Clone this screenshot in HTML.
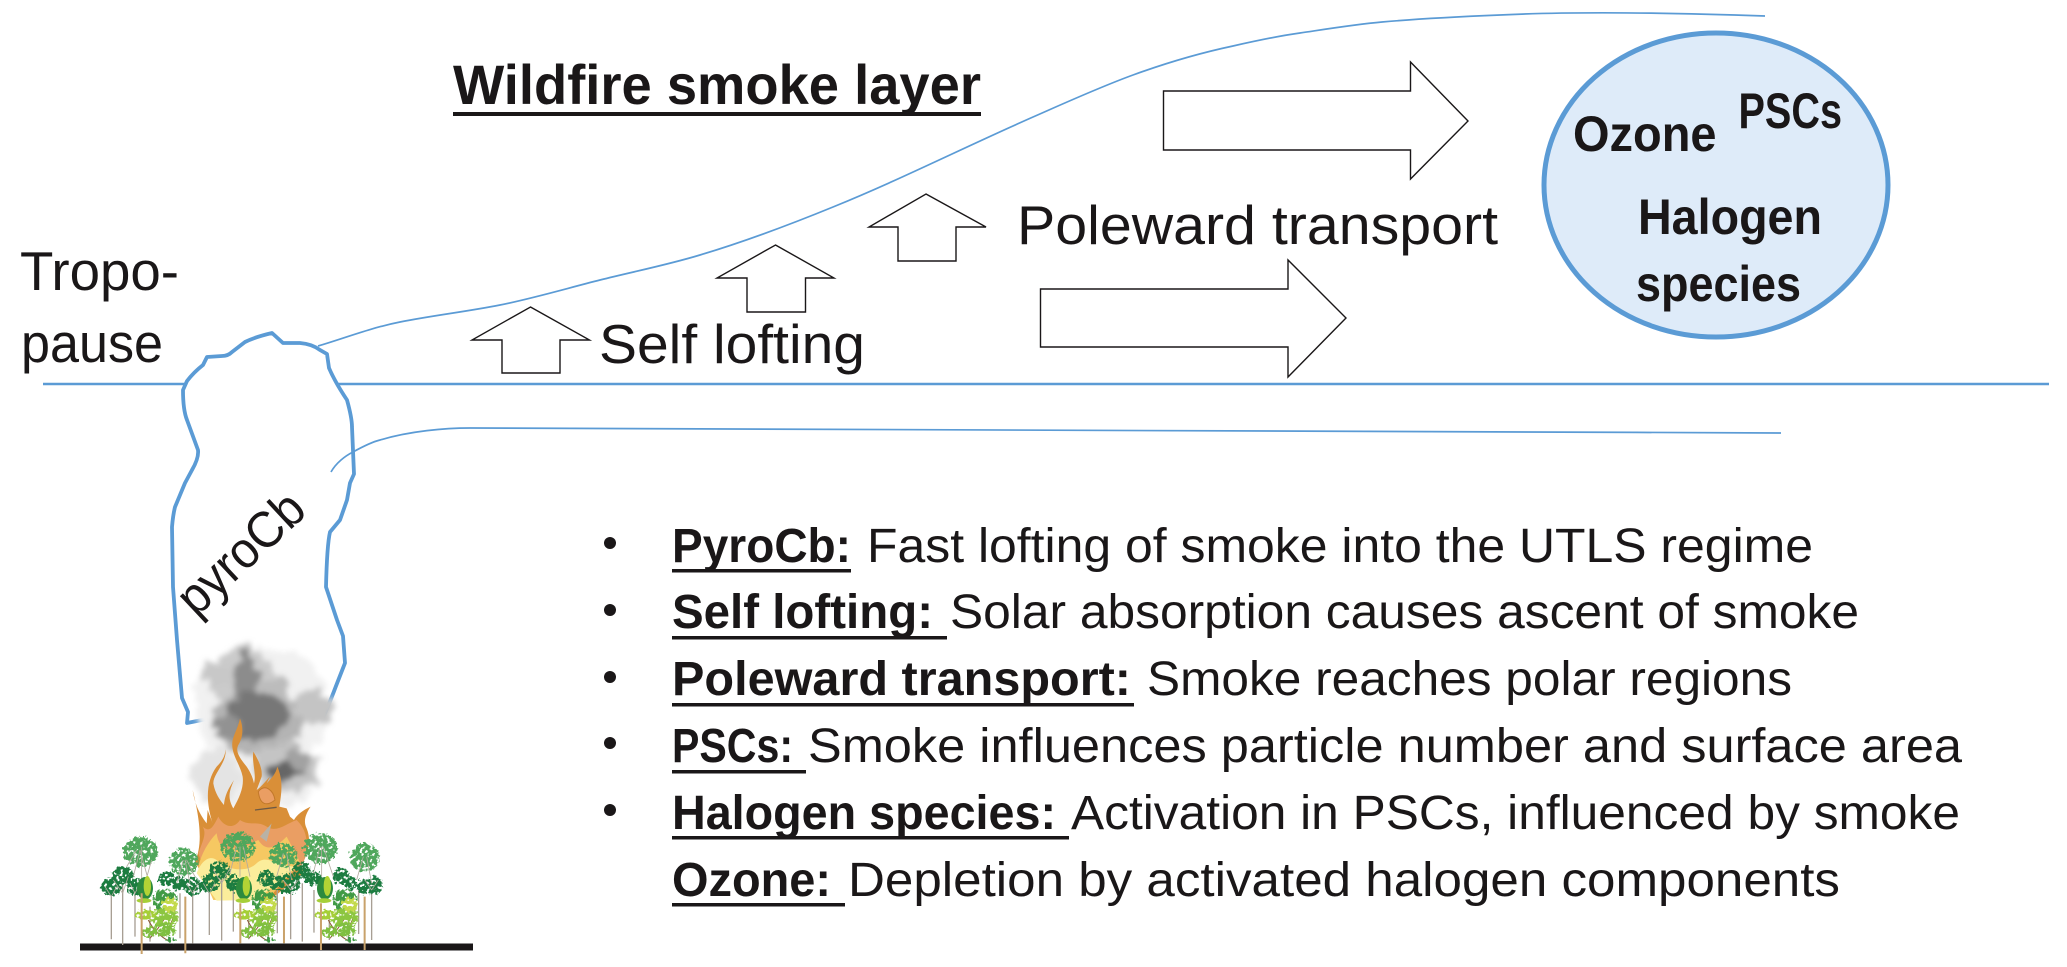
<!DOCTYPE html>
<html><head><meta charset="utf-8"><style>
html,body{margin:0;padding:0;background:#fff;width:2067px;height:967px;overflow:hidden}
svg{display:block}
text{font-family:"Liberation Sans",sans-serif;fill:#1a1718}
.b{font-weight:bold}
</style></head><body>
<svg width="2067" height="967" viewBox="0 0 2067 967" xmlns="http://www.w3.org/2000/svg">
<defs>
<filter id="smoke" x="-30%" y="-30%" width="160%" height="160%"><feTurbulence type="fractalNoise" baseFrequency="0.07" numOctaves="4" seed="4"/><feDisplacementMap in="SourceGraphic" scale="22" xChannelSelector="R" yChannelSelector="G"/><feGaussianBlur stdDeviation="2.6"/></filter>
<filter id="leaf" x="-10%" y="-10%" width="120%" height="120%">
<feTurbulence type="fractalNoise" baseFrequency="0.1" numOctaves="2" seed="9" result="n"/>
<feDisplacementMap in="SourceGraphic" in2="n" scale="22" xChannelSelector="R" yChannelSelector="G" result="d"/>
<feColorMatrix in="n" type="matrix" values="0 0 0 0 0  0 0 0 0 0  0 0 0 0 0  10 0 0 0 -3.400" result="m"/>
<feComposite in="d" in2="m" operator="in"/>
</filter>
<g id="shrub">
<g stroke="#8a5a35" stroke-width="3" fill="none"><path d="M300,965 C270,950 250,930 235,900"/><path d="M240,955 C260,930 280,910 300,860"/><path d="M280,945 C300,920 310,900 315,870"/></g>
<g filter="url(#leaf)">
<ellipse cx="285" cy="840" rx="38" ry="32" fill="#3f9a45"/>
<ellipse cx="285" cy="892" rx="40" ry="32" fill="#8cc63f"/>
<ellipse cx="300" cy="855" rx="24" ry="22" fill="#c2d94a"/>
<ellipse cx="240" cy="935" rx="24" ry="16" fill="#7fbf3f"/>
<ellipse cx="285" cy="930" rx="34" ry="20" fill="#7fbf3f"/>
<ellipse cx="305" cy="960" rx="16" ry="7" fill="#3f9a45"/>
<ellipse cx="228" cy="885" rx="32" ry="14" fill="#a6cf38"/>
</g>
<ellipse cx="225" cy="805" rx="24" ry="34" fill="#2c8a3e"/>
<ellipse cx="232" cy="798" rx="11" ry="30" fill="#b3d335"/>
<ellipse cx="222" cy="842" rx="22" ry="7" fill="#a6cf38"/>
</g>
</defs>

<!-- curves -->
<path d="M43,384H2049" stroke="#5b9bd5" stroke-width="2.6" fill="none"/>
<path d="M318,346 C345,338 370,328 400,322 C433,315.400 467,311.600 500,305 C533,298.400 567,288.300 600,280 C633,271.700 667,265 700,255 C744,241.800 789,225 833,207 C855,198 878,188 900,178 C944,158 989,136.400 1033,117 C1066,102.500 1100,87 1133,75 C1166,63 1200,53 1233,46 C1255,41 1278,36 1300,33 C1327,29 1355,24.400 1382,22 C1421,18.500 1461,16.600 1500,15 C1560,12 1650,12 1765,16" stroke="#5b9bd5" stroke-width="1.700" fill="none"/>

<!-- cloud -->
<path d="M183,390 L187,381 Q194,372 203,365 L207,357 L222,356 Q228,356 232,352 L245,342 Q255,337 272,333 L283,343 L300,343 Q312,344 320,350 L327,354 L329,368 Q335,382 347,400 Q352,418 352,427 L354,474 L350,483 L347,500 L340,520 L330,532 Q327,545 326,587 L337,620 L343,636 L345,663 L336,686 Q327,710 322,719 Q317,728 310,730 Q303,731 290,729 Q277,727 252,722 Q227,718 217,717 L187,723 L188,712 L182,698 L177,640 L173,587 L172,527 Q173,515 175,507 L185,483 L192,470 Q199,458 198,450 L187,420 Q183,410 183,390 Z" fill="#fff" stroke="#5b9bd5" stroke-width="3.800" stroke-linejoin="round"/>
<path d="M331,472 C336,463 345,456 353,452 C362,447 372,442 380,440 C410,431 445,428 470,428 C800,429 1300,431 1781,433" stroke="#5b9bd5" stroke-width="1.700" fill="none"/>

<text transform="translate(196,618) rotate(-43)" font-size="51" textLength="154" lengthAdjust="spacingAndGlyphs">pyroCb</text>

<!-- smoke -->
<g filter="url(#smoke)">
<ellipse cx="262" cy="705" rx="68" ry="60" fill="#f1f1f1"/>
<ellipse cx="255" cy="780" rx="62" ry="34" fill="#efefef"/>
<ellipse cx="245" cy="680" rx="30" ry="34" fill="#cbcbcb"/>
<ellipse cx="258" cy="722" rx="46" ry="32" fill="#b4b4b4"/>
<ellipse cx="217" cy="675" rx="13" ry="16" fill="#c8c8c8"/>
<ellipse cx="313" cy="708" rx="20" ry="15" fill="#c4c4c4"/>
<ellipse cx="273" cy="697" rx="20" ry="20" fill="#bcbcbc"/>
<ellipse cx="245" cy="677" rx="12" ry="24" fill="#8c8c8c"/>
<ellipse cx="257" cy="717" rx="31" ry="25" fill="#777"/>
<ellipse cx="227" cy="727" rx="14" ry="11" fill="#929292"/>
<ellipse cx="285" cy="768" rx="32" ry="26" fill="#c4c4c4"/>
<ellipse cx="283" cy="770" rx="20" ry="12" fill="#666"/>
<ellipse cx="300" cy="760" rx="13" ry="12" fill="#a2a2a2"/>
<ellipse cx="217" cy="777" rx="24" ry="28" fill="#e4e4e4"/>
</g>

<!-- flames -->
<g transform="translate(70,620) scale(0.3333)">
<path d="M375,725 C395,680 395,620 368,510 C375,560 395,590 410,610 L413,570 C420,590 425,600 428,610 C405,540 410,480 440,440 C455,425 465,410 467,388 C470,430 430,460 430,490 C435,520 450,540 462,555 C465,520 480,500 492,480 C480,510 470,530 490,565 C510,530 522,500 518,470 C510,430 480,400 488,360 C495,335 505,320 510,295 C522,325 518,355 505,375 C495,395 510,415 530,440 C540,455 548,470 552,490 C560,460 545,430 550,395 C565,420 578,445 575,470 L560,510 C575,500 590,480 600,470 L590,490 C605,475 618,460 622,440 C640,480 635,520 628,560 L650,565 L660,590 L672,600 C680,585 700,570 722,560 C705,585 700,605 710,625 C725,660 715,700 695,735 L700,760 L600,840 L440,840 Z" fill="#d98f38"/>
<path d="M385,700 C400,660 410,640 398,620 C420,640 430,620 445,590 C460,620 490,630 510,600 C540,620 560,600 590,620 C620,640 650,610 680,600 C705,625 722,660 700,730 L620,800 L420,800 Z" fill="#ea9e63"/>
<path d="M385,740 C395,700 415,665 440,640 C445,680 470,700 500,680 C520,690 540,670 565,660 C590,700 620,680 650,650 C665,680 680,700 690,730 L600,830 L430,840 Z" fill="#f6c862"/>
<path d="M380,760 C395,720 420,705 440,720 C470,750 530,760 560,730 C590,700 620,740 680,740 L560,840 L440,842 Z" fill="#fbed9b"/>
<path d="M565,515 C585,490 610,510 615,540 C590,560 570,555 565,515Z" fill="#ea9e63" stroke="#c2782a" stroke-width="3"/>
<path d="M555,570 L620,562" stroke="#6e5a45" stroke-width="4" fill="none"/>
<path d="M570,650 L605,610 L590,665Z" fill="#b9b2a6"/>
</g>

<!-- trees -->
<path d="M80,947H473" stroke="#1a1718" stroke-width="7"/>
<g transform="translate(70,620) scale(0.3333)">
<g stroke="#a89f94" stroke-width="4" fill="none">
<path d="M124,830V958M158,790V975M195,810V950M240,860V965M330,820V955M368,810V970M418,810V945M455,770V962M490,810V935M536,880V958M595,880V965M622,810V940M662,800V958M697,790V965M732,810V938M778,880V960M835,860V965M866,810V942M905,800V960"/>
</g>
<g filter="url(#leaf)">
<g fill="#4fa75c">
<ellipse cx="212" cy="695" rx="52" ry="46"/><ellipse cx="342" cy="725" rx="44" ry="40"/><ellipse cx="505" cy="680" rx="52" ry="44"/><ellipse cx="640" cy="705" rx="42" ry="37"/><ellipse cx="752" cy="685" rx="52" ry="46"/><ellipse cx="885" cy="712" rx="44" ry="42"/>
</g>
<g fill="#1f7b40">
<ellipse cx="125" cy="800" rx="32" ry="28"/><ellipse cx="160" cy="765" rx="32" ry="26"/><ellipse cx="195" cy="800" rx="24" ry="26"/><ellipse cx="290" cy="775" rx="24" ry="22"/><ellipse cx="330" cy="790" rx="26" ry="22"/><ellipse cx="372" cy="800" rx="26" ry="26"/><ellipse cx="420" cy="790" rx="30" ry="28"/><ellipse cx="450" cy="750" rx="32" ry="26"/><ellipse cx="490" cy="790" rx="22" ry="26"/><ellipse cx="590" cy="775" rx="26" ry="24"/><ellipse cx="620" cy="790" rx="22" ry="22"/><ellipse cx="655" cy="790" rx="36" ry="32"/><ellipse cx="695" cy="750" rx="26" ry="26"/><ellipse cx="730" cy="775" rx="26" ry="22"/><ellipse cx="815" cy="770" rx="26" ry="26"/><ellipse cx="840" cy="790" rx="20" ry="20"/><ellipse cx="885" cy="800" rx="26" ry="24"/><ellipse cx="915" cy="795" rx="24" ry="26"/>
</g>
</g>
<g stroke="#b3aba0" stroke-width="2.500" fill="none"><path d="M210,690L190,770M210,690L235,780M215,680V780M245,720L225,790M200,690L170,740M340,720L320,790M345,720L360,790M350,720L375,770M500,680L480,760M520,680L540,770M510,680V770M640,700L620,770M650,700L665,780M750,680L730,760M760,680L790,770M755,680V770M880,710L860,780M890,710L905,790M158,820L130,780M158,820L175,770M124,830L105,800M124,830L140,800M195,820L180,790M195,820L210,790M368,820L350,790M368,820L385,790M418,820L400,790M418,820L435,790M455,790L430,750M455,790L480,745M662,810L640,780M662,810L685,780M905,810L885,780M905,810L925,780"/></g>
<use href="#shrub"/>
<use href="#shrub" x="297"/>
<use href="#shrub" x="540"/>
<path d="M215,820V1002M346,830V1000M511,850V970M642,830V970M753,850V990M884,830V990" stroke="#c9a26b" stroke-width="6" fill="none"/>
</g>

<!-- arrows -->
<g fill="#fff" stroke="#1a1718" stroke-width="1.400" stroke-linejoin="miter">
<path d="M530.5,307L589.5,340H560V373H502V340H472Z"/>
<path d="M775.5,245L834,278H805.5V312H747V278H717Z"/>
<path d="M926,194L986,227H956V261H898V227H869Z"/>
<path d="M1163.5,91H1410.5V62L1468,121L1410.5,179V150H1163.5Z"/>
<path d="M1040.5,289H1288V260L1346,318L1288,377V347H1040.5Z"/>
</g>

<!-- circle -->
<ellipse cx="1716" cy="185" rx="172" ry="152" fill="#deebf9" stroke="#5b9bd5" stroke-width="5"/>
<text class="b" font-size="50" x="1573" y="151" textLength="143.500" lengthAdjust="spacingAndGlyphs">Ozone</text>
<text class="b" font-size="50" x="1738.500" y="128" textLength="103.500" lengthAdjust="spacingAndGlyphs">PSCs</text>
<text class="b" font-size="50" x="1638" y="234" textLength="184" lengthAdjust="spacingAndGlyphs">Halogen</text>
<text class="b" font-size="50" x="1636" y="301" textLength="165" lengthAdjust="spacingAndGlyphs">species</text>

<!-- headings -->
<text class="b" x="453" y="104" font-size="56" textLength="528" lengthAdjust="spacingAndGlyphs">Wildfire smoke layer</text>
<rect x="453" y="112" width="528" height="4" fill="#1a1718"/>
<text x="1017" y="244" font-size="55" textLength="481" lengthAdjust="spacingAndGlyphs">Poleward transport</text>
<text x="599" y="363" font-size="55" textLength="266" lengthAdjust="spacingAndGlyphs">Self lofting</text>
<text x="20" y="290" font-size="55" textLength="159" lengthAdjust="spacingAndGlyphs">Tropo-</text>
<text x="21" y="362" font-size="55" textLength="142" lengthAdjust="spacingAndGlyphs">pause</text>

<!-- list -->
<g fill="#1a1718">
<ellipse cx="610" cy="543" rx="6" ry="6"/><ellipse cx="610" cy="610" rx="6" ry="6"/><ellipse cx="610" cy="677" rx="6" ry="6"/><ellipse cx="610" cy="743" rx="6" ry="6"/><ellipse cx="610" cy="810" rx="6" ry="6"/>
<rect x="672" y="569" width="179" height="3.500"/>
<rect x="672" y="636" width="275" height="3.500"/>
<rect x="672" y="703" width="462" height="3.500"/>
<rect x="672" y="770" width="134" height="3.500"/>
<rect x="672" y="836" width="397" height="3.500"/>
<rect x="672" y="903" width="173" height="3.500"/>
</g>
<g font-size="48">
<text class="b" x="672" y="562" textLength="179" lengthAdjust="spacingAndGlyphs">PyroCb:</text>
<text x="867" y="562" textLength="946" lengthAdjust="spacingAndGlyphs">Fast lofting of smoke into the UTLS regime</text>
<text class="b" x="672" y="628" textLength="261" lengthAdjust="spacingAndGlyphs">Self lofting:</text>
<text x="950" y="628" textLength="909" lengthAdjust="spacingAndGlyphs">Solar absorption causes ascent of smoke</text>
<text class="b" x="672" y="695" textLength="459" lengthAdjust="spacingAndGlyphs">Poleward transport:</text>
<text x="1147" y="695" textLength="645" lengthAdjust="spacingAndGlyphs">Smoke reaches polar regions</text>
<text class="b" x="672" y="762" textLength="121" lengthAdjust="spacingAndGlyphs">PSCs:</text>
<text x="808" y="762" textLength="1154" lengthAdjust="spacingAndGlyphs">Smoke influences particle number and surface area</text>
<text class="b" x="672" y="829" textLength="384" lengthAdjust="spacingAndGlyphs">Halogen species:</text>
<text x="1071" y="829" textLength="889" lengthAdjust="spacingAndGlyphs">Activation in PSCs, influenced by smoke</text>
<text class="b" x="672" y="896" textLength="159" lengthAdjust="spacingAndGlyphs">Ozone:</text>
<text x="848" y="896" textLength="992" lengthAdjust="spacingAndGlyphs">Depletion by activated halogen components</text>
</g>
</svg>
</body></html>
